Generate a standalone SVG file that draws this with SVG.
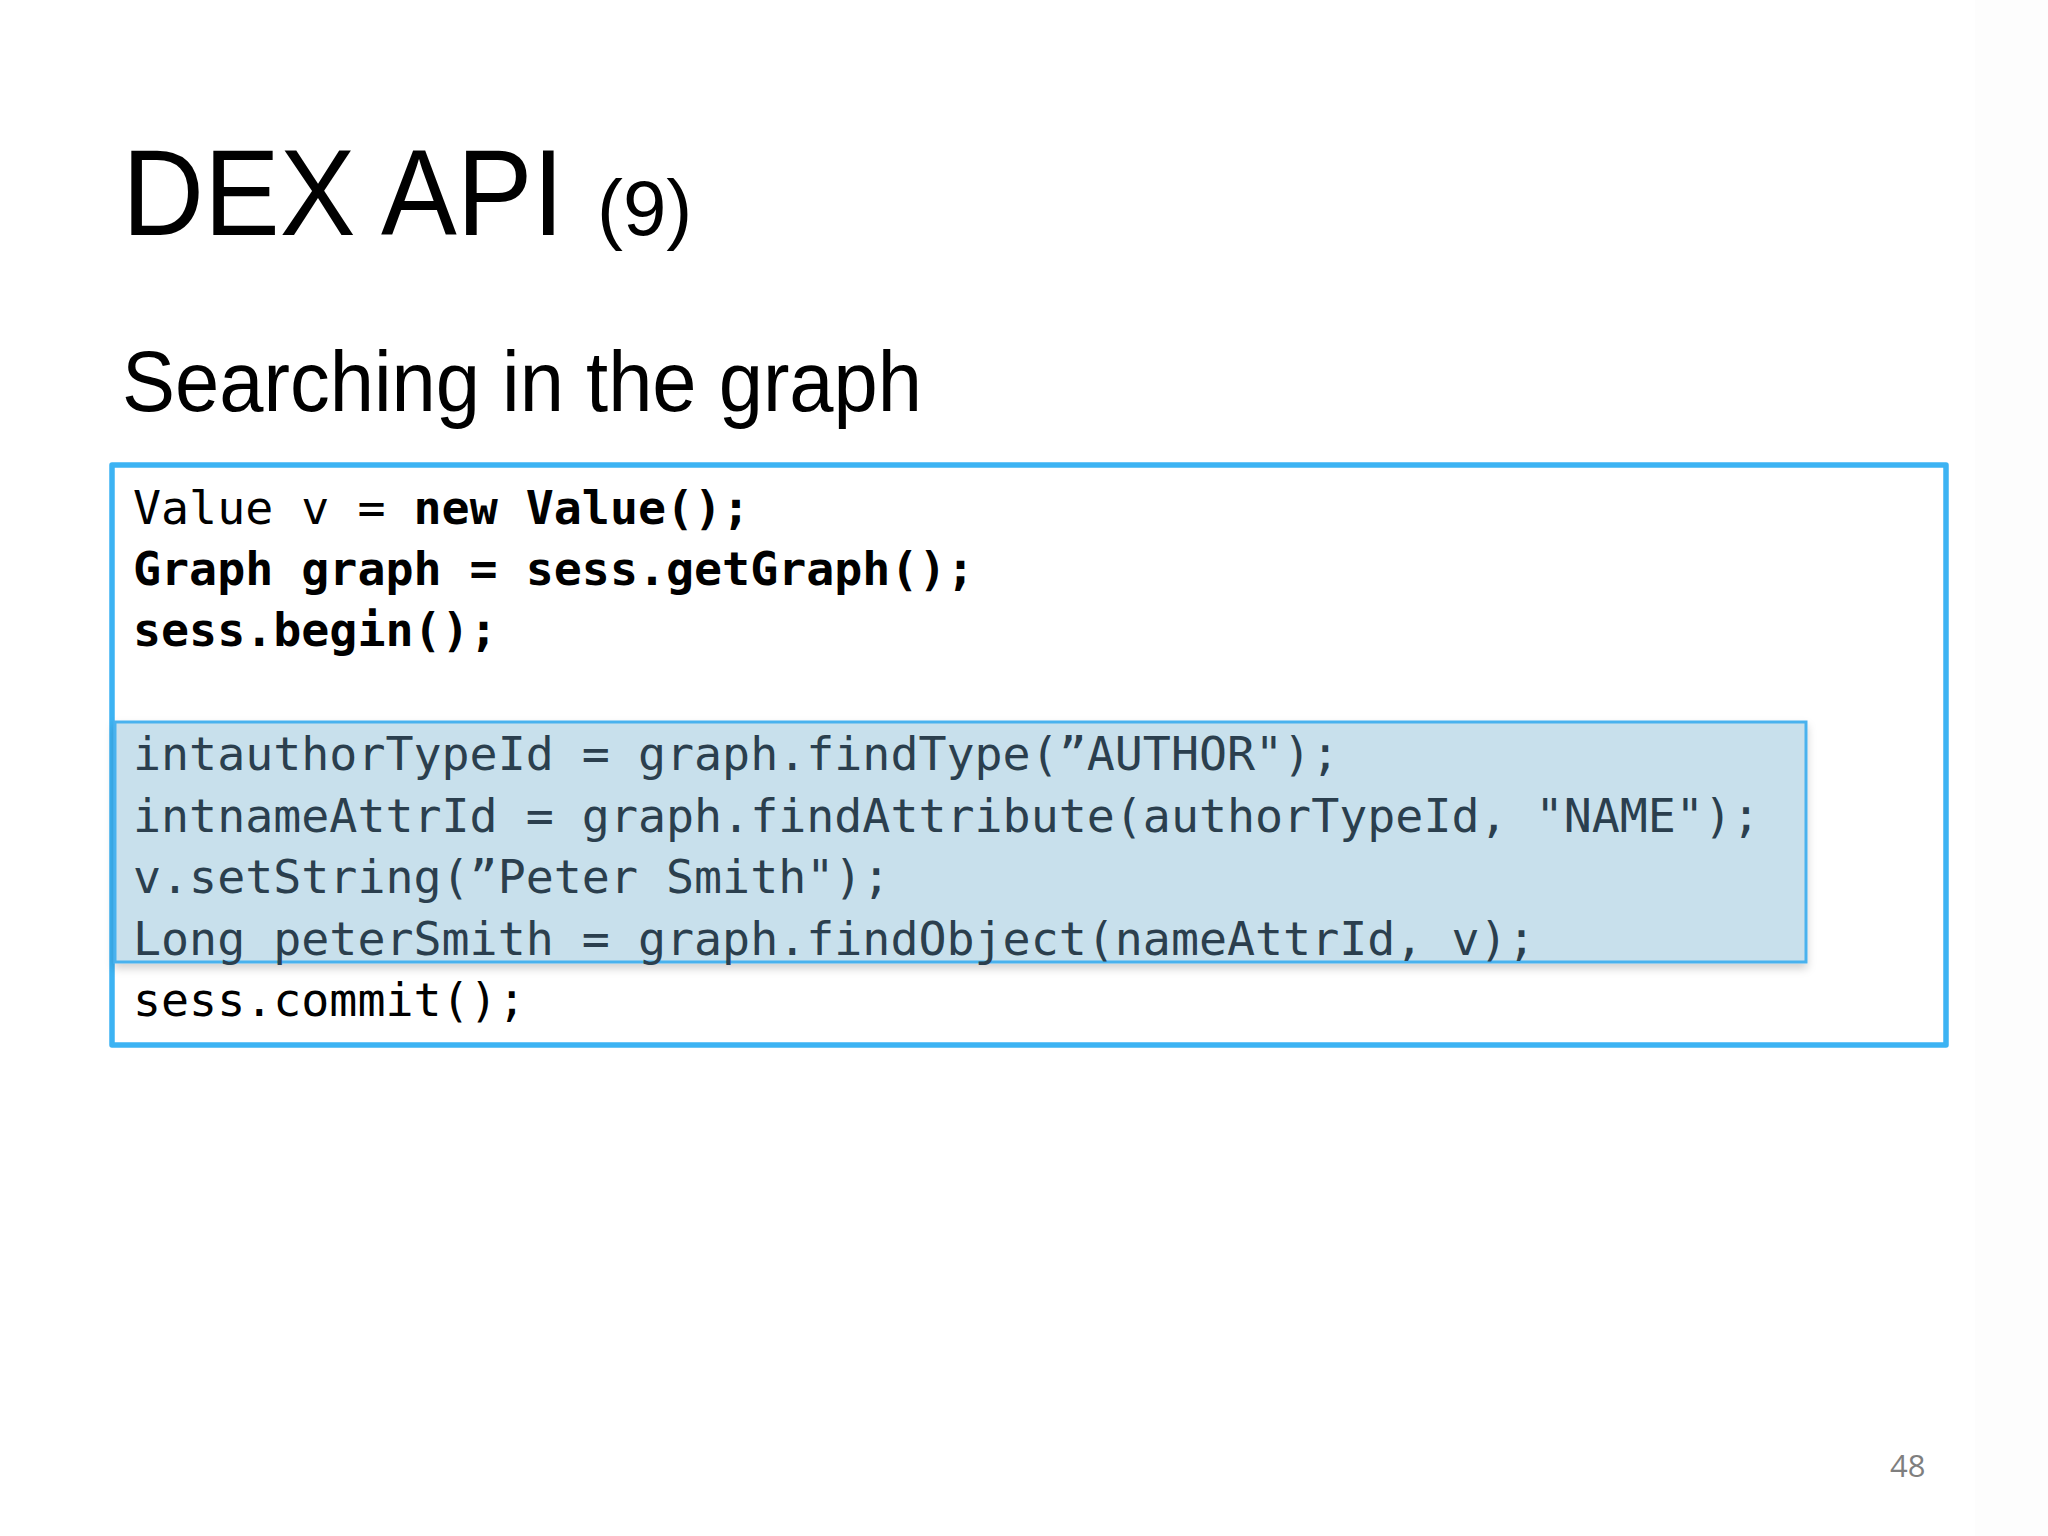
<svg xmlns="http://www.w3.org/2000/svg" width="2048" height="1536" viewBox="0 0 2048 1536">
  <defs>
    <style>
      .title { font-family: "Liberation Sans", Arial, sans-serif; fill: #000; }
      .code { font-family: "DejaVu Sans Mono", "Liberation Mono", monospace; font-size: 46.6px; fill: #000; }
      .hl { fill: #2b3f4e; }
      .b { font-weight: bold; }
      .pg { font-family: "Open Sans", "Liberation Sans", sans-serif; font-size: 31px; fill: #7f7f7f; }
    </style>
    <filter id="sh" x="-5%" y="-10%" width="110%" height="130%">
      <feDropShadow dx="0" dy="5" stdDeviation="4" flood-color="#000" flood-opacity="0.18"/>
    </filter>
  </defs>
  <rect x="0" y="0" width="2048" height="1536" fill="#ffffff"/>
  <rect x="1975" y="0" width="73" height="1536" fill="#fdfdfd"/>

  <g id="title">
    <text class="title" x="122" y="235" font-size="122" textLength="442" lengthAdjust="spacingAndGlyphs">DEX API</text>
    <text class="title" x="597" y="235" font-size="78">(9)</text>
  </g>
  <g id="subtitle">
    <text class="title" x="122" y="411" font-size="85" textLength="800" lengthAdjust="spacingAndGlyphs">Searching in the graph</text>
  </g>

  <g id="code-box">
    <rect x="112" y="465" width="1834" height="580" fill="#ffffff" stroke="#3cb3f3" stroke-width="5.5" stroke-linejoin="round"/>
    <text class="code" x="133" y="524">Value v = <tspan class="b">new Value();</tspan></text>
    <text class="code b" x="133" y="585">Graph graph = sess.getGraph();</text>
    <text class="code b" x="133" y="646">sess.begin();</text>
  </g>

  <g id="highlight">
    <rect x="115" y="722" width="1691" height="240" fill="#c8e0ec" stroke="#4ab2ee" stroke-width="3" filter="url(#sh)"/>
    <text class="code hl" x="133" y="770">intauthorTypeId = graph.findType(”AUTHOR");</text>
    <text class="code hl" x="133" y="832">intnameAttrId = graph.findAttribute(authorTypeId, "NAME");</text>
    <text class="code hl" x="133" y="893">v.setString(”Peter Smith");</text>
    <text class="code hl" x="133" y="955">Long peterSmith = graph.findObject(nameAttrId, v);</text>
  </g>

  <g id="commit">
    <text class="code" x="133" y="1016">sess.commit();</text>
  </g>

  <g id="connectors"></g>

  <g id="page-number">
    <text class="pg" x="1890" y="1477">48</text>
  </g>
</svg>
